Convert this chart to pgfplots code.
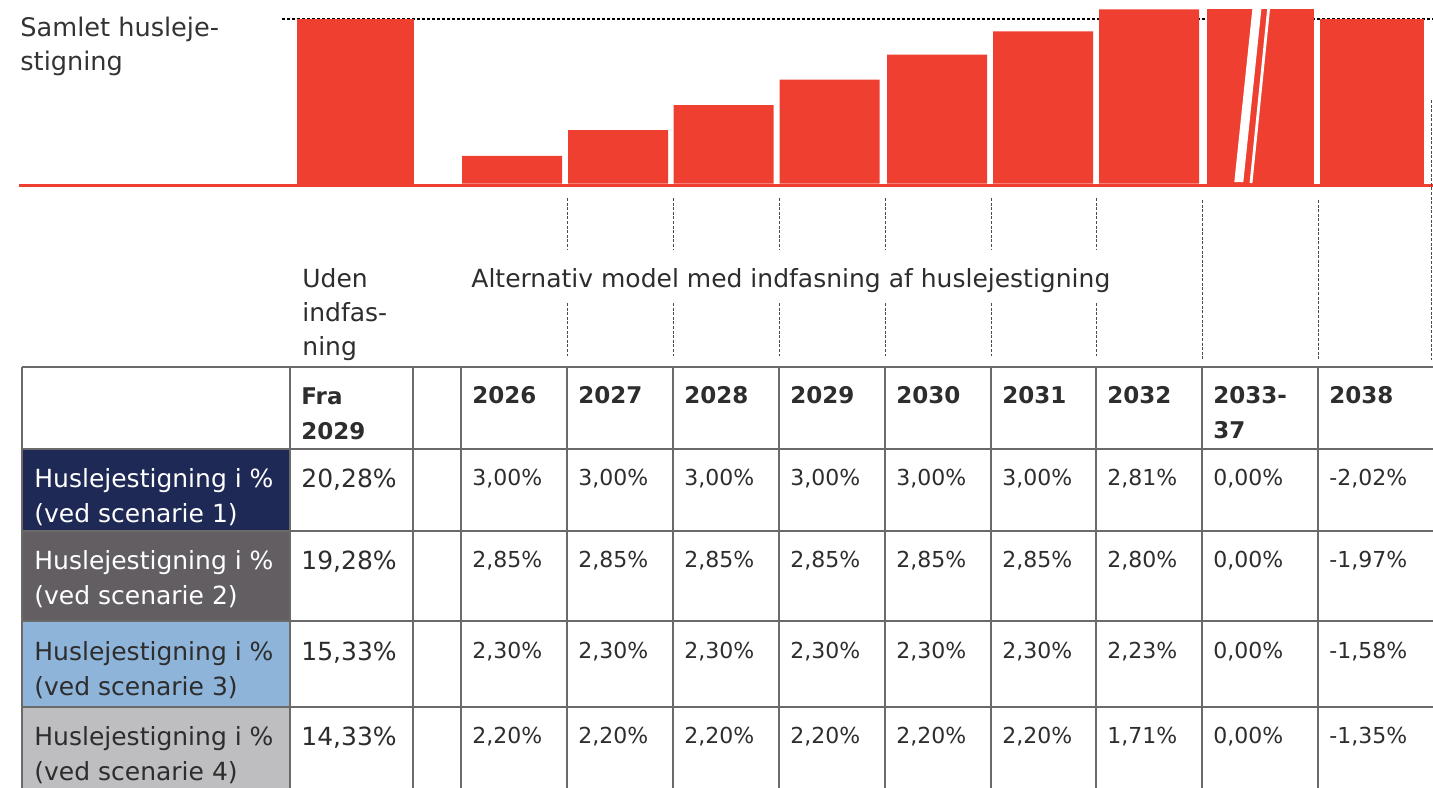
\documentclass[border=0pt]{standalone}
\usepackage{pgfplots}
\pgfplotsset{compat=1.18}
\usepackage{fontspec}
\setmainfont{DejaVu Sans}
\definecolor{barred}{HTML}{EE3F30}
\definecolor{navy}{HTML}{1E2A55}
\definecolor{dgrey}{HTML}{625E62}
\definecolor{lblue}{HTML}{8FB4DA}
\definecolor{lgrey}{HTML}{BEBEC1}
\definecolor{txt}{HTML}{2D2D2D}
\definecolor{gridc}{HTML}{6A6A6A}
\newcommand\mainsz{\fontsize{12.5pt}{18pt}\selectfont}
\newcommand\valsz{\fontsize{11pt}{16pt}\selectfont}
\newcommand\hdsz{\fontsize{11.5pt}{16pt}\selectfont\bfseries}
% one row of yearly values: baseline, 2026-2031 value, 2032, 2033-37, 2038
\newcommand\vrow[5]{%
  \node[v] at (472,#1) {#2\%};
  \node[v] at (578,#1) {#2\%};
  \node[v] at (684,#1) {#2\%};
  \node[v] at (790,#1) {#2\%};
  \node[v] at (896,#1) {#2\%};
  \node[v] at (1002,#1) {#2\%};
  \node[v] at (1107,#1) {#3\%};
  \node[v] at (1213,#1) {#4\%};
  \node[v] at (1329,#1) {#5\%};}
\begin{document}
\begin{tikzpicture}[x=0.5pt,y=-0.5pt,
  t/.style={anchor=base west, inner sep=0pt, text=txt, font=\mainsz},
  v/.style={anchor=base west, inner sep=0pt, text=txt, font=\valsz},
  h/.style={anchor=base west, inner sep=0pt, text=txt, font=\hdsz},
  vd/.style={draw=black!70, line width=0.5pt, dash pattern=on 1.5pt off 0.8pt}]
\useasboundingbox (0,0) rectangle (1433,787);
\begin{scope}
\clip (0,0) rectangle (1433,787);
% ---------- bar chart ----------
\begin{axis}[at={(0pt,-91.75pt)}, anchor=south west, scale only axis,
  width=716.5pt, height=91.75pt, xmin=0, xmax=1433, ymin=0, ymax=22.62,
  hide axis, clip=false]
\addplot[black, line width=0.6pt, dash pattern=on 1.5pt off 1pt, mark=none] coordinates {(282,20.28) (1433,20.28)};
\addplot[ybar, bar width=117, bar shift=0pt, fill=barred, draw=none] coordinates {(355.5,20.28)};
\addplot[ybar, bar width=100, bar shift=0pt, fill=barred, draw=none] coordinates {
 (512,3.42) (618,6.58) (723.5,9.65) (829.5,12.81) (937,15.88) (1043,18.75) (1149,21.45)};
\addplot[ybar, bar width=107, bar shift=0pt, fill=barred, draw=none] coordinates {(1260.5,21.45)};
\addplot[ybar, bar width=104, bar shift=0pt, fill=barred, draw=none] coordinates {(1372,20.28)};
\end{axis}
% axis break on the 2033-37 bar
\fill[white] (1253.3,0) -- (1262.3,0) -- (1243.3,182) -- (1234.3,182) -- cycle;
\draw[white, line width=1.4pt] (1269.5,0) -- (1251,183);
% red baseline
\draw[barred, line width=1.5pt] (19,185) -- (1440,185);
% title
\node[t, text=black!80, font=\fontsize{12.8pt}{18pt}\selectfont] at (20,36) {Samlet husleje-};
\node[t, text=black!80, font=\fontsize{12.8pt}{18pt}\selectfont] at (20,70) {stigning};
% dashed guides
\foreach \xx in {567,673,779,885,991,1096} {
  \draw[vd] (\xx,198) -- (\xx,250);
  \draw[vd] (\xx,303) -- (\xx,356);
}
\foreach \xx in {1202,1318} { \draw[vd] (\xx,200) -- (\xx,360); }
\draw[vd] (1431,100) -- (1431,360);
% group headers
\node[t] at (302,287) {Uden};
\node[t] at (302,321) {indfas-};
\node[t] at (302,355) {ning};
\node[t] at (471,287) {Alternativ model med indfasning af huslejestigning};
% ---------- table ----------
\fill[navy]  (22,449) rectangle (290,531);
\fill[dgrey] (22,531) rectangle (290,621);
\fill[lblue] (22,621) rectangle (290,707);
\fill[lgrey] (22,707) rectangle (290,800);
\foreach \yy in {367,449,531,621,707} { \draw[gridc, line width=1pt] (22,\yy) -- (1440,\yy); }
\foreach \xx in {22,290,413,461,567,673,779,885,991,1096,1202,1318} { \draw[gridc, line width=1pt] (\xx,367) -- (\xx,800); }
% header row
\node[h] at (301,404) {Fra};
\node[h] at (301,439) {2029};
\node[h] at (472,403) {2026};
\node[h] at (578,403) {2027};
\node[h] at (684,403) {2028};
\node[h] at (790,403) {2029};
\node[h] at (896,403) {2030};
\node[h] at (1002,403) {2031};
\node[h] at (1107,403) {2032};
\node[h] at (1213,403) {2033-};
\node[h] at (1213,438) {37};
\node[h] at (1329,403) {2038};
% row labels
\node[t, text=white] at (34,487) {Huslejestigning i \%};
\node[t, text=white] at (34,522) {(ved scenarie 1)};
\node[t, text=white] at (34,569) {Huslejestigning i \%};
\node[t, text=white] at (34,604) {(ved scenarie 2)};
\node[t] at (34,660) {Huslejestigning i \%};
\node[t] at (34,695) {(ved scenarie 3)};
\node[t] at (34,745) {Huslejestigning i \%};
\node[t] at (34,780) {(ved scenarie 4)};
% Fra 2029 values
\node[t] at (301,487) {20,28\%};
\node[t] at (301,569) {19,28\%};
\node[t] at (301,660) {15,33\%};
\node[t] at (301,745) {14,33\%};
% yearly values
\vrow{485}{3,00}{2,81}{0,00}{-2,02}
\vrow{567}{2,85}{2,80}{0,00}{-1,97}
\vrow{658}{2,30}{2,23}{0,00}{-1,58}
\vrow{743}{2,20}{1,71}{0,00}{-1,35}
\end{scope}
\end{tikzpicture}
\end{document}
